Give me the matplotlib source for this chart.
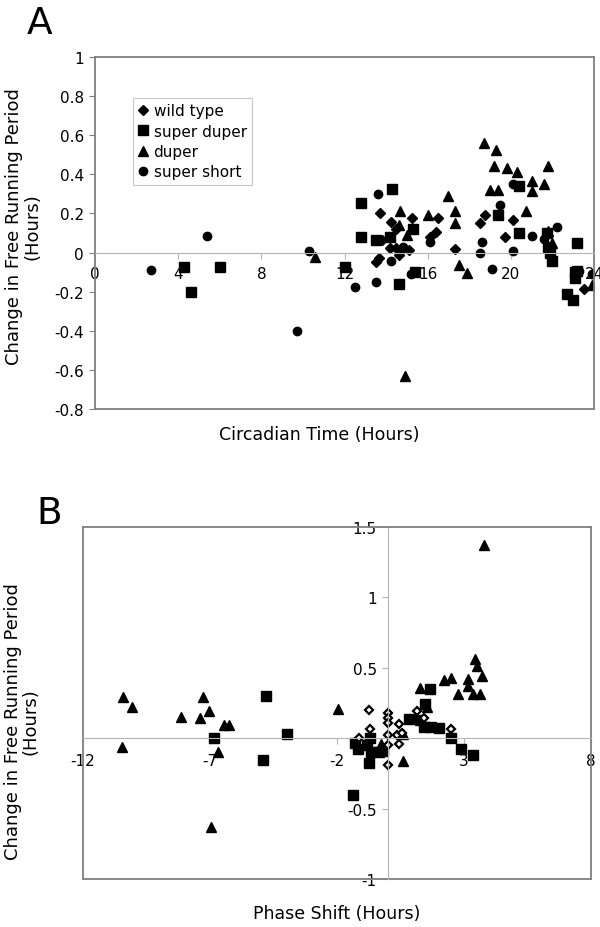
import matplotlib
matplotlib.use("Agg")
import matplotlib.pyplot as plt

# ---- panel A: circadian time vs change in free running period ----
wt_ct = [13.7, 14.25, 14.5, 15.25, 16.5, 16.4, 16.1, 13.8, 14.2, 14.5, 14.8, 15.1,
         13.65, 13.5, 14.6, 17.3, 18.5, 18.75, 19.7, 20.1, 23.5]
wt_dp = [0.20, 0.155, 0.12, 0.175, 0.175, 0.105, 0.08, 0.065, 0.024, 0.024, 0.024, 0.012,
         -0.027, -0.048, -0.014, 0.02, 0.15, 0.19, 0.079, 0.168, -0.185]

sd_ct = [4.3, 4.6, 6.0, 12.0, 12.8, 14.3, 12.8, 13.5, 14.2, 15.3, 15.4, 14.6, 19.4, 20.4,
         20.4, 21.75, 21.8, 21.9, 22.0, 23.2, 23.1, 23.1, 22.7, 23.0, 23.2]
sd_dp = [-0.072, -0.203, -0.072, -0.075, 0.255, 0.325, 0.08, 0.065, 0.08, 0.122, -0.1, -0.16,
         0.19, 0.1, 0.338, 0.1, 0.03, 0.0, -0.043, 0.048, -0.1, -0.13, -0.212, -0.243, -0.092]

du_ct = [10.6, 14.65, 14.6, 15.0, 16.0, 17.0, 17.3, 17.3, 17.5, 17.9, 14.9, 18.7, 19.3,
         19.2, 19.8, 20.3, 21.0, 21.8, 21.6, 19.0, 19.4, 21.0, 20.75, 21.8, 22.0, 23.9]
du_dp = [-0.024, 0.21, 0.14, 0.09, 0.19, 0.287, 0.215, 0.15, -0.063, -0.103, -0.63, 0.559,
         0.523, 0.441, 0.431, 0.41, 0.368, 0.441, 0.35, 0.318, 0.318, 0.316, 0.215, 0.108,
         0.048, -0.166]

ss_ct = [2.7, 5.4, 10.3, 9.7, 12.5, 13.5, 13.6, 14.24, 14.8, 16.1, 15.2, 18.6, 18.5, 19.1,
         19.5, 20.1, 20.1, 21.0, 21.6, 22.2, 23.3, 23.9]
ss_dp = [-0.09, 0.087, 0.01, -0.4, -0.174, -0.152, 0.3, -0.043, 0.03, 0.056, -0.11, 0.056,
         0.0, -0.084, 0.241, 0.35, 0.009, 0.087, 0.07, 0.13, -0.092, -0.11]

# ---- panel B: phase shift vs change in free running period ----
wt_ps = [-0.75, 0, 0, 0, -0.71, -1.14, 0, 0, 0, 0.43, 0.37, 0.43, 0.55, 1.13, 1.43, 2.47]
wt_dpB = [0.2, 0.18, 0.14, 0.107, 0.066, 0.0, 0.02, -0.05, -0.19, 0.1, 0.02, -0.04, 0.04,
          0.19, 0.144, 0.066]

sd_ps = [-4.78, -6.86, -3.96, -4.9, -1.38, -1.3, -1.17, -0.8, -0.71, -0.67, -0.75, -0.35,
         -0.2, 0.83, 1.26, 1.48, 1.65, 1.43, 1.72, 2.02, 2.5, 2.87, 3.36]
sd_dpB = [0.3, 0.0, 0.028, -0.152, -0.402, -0.033, -0.075, -0.05, 0.0, -0.095, -0.175,
          -0.095, -0.09, 0.137, 0.13, 0.244, 0.35, 0.078, 0.078, 0.071, 0.0, -0.075, -0.116]

du_ps = [-10.43, -10.07, -10.47, -8.15, -7.39, -7.28, -7.05, -6.43, -6.27, -6.68, -6.96,
         -1.97, 0.6, -0.25, 0.6, 1.26, 1.56, 2.22, 2.48, 2.77, 3.16, 3.14, 3.36, 3.62, 3.45,
         3.5, 3.69, 3.8]
du_dpB = [0.291, 0.22, -0.059, 0.149, 0.142, 0.291, 0.192, 0.095, 0.095, -0.099, -0.632,
          0.208, -0.159, -0.04, 0.03, 0.355, 0.22, 0.41, 0.43, 0.315, 0.374, 0.42, 0.315,
          0.315, 0.563, 0.516, 0.445, 1.373]

a_xticks = [0, 4, 8, 12, 16, 20, 24]
a_yticks = [-0.8, -0.6, -0.4, -0.2, 0, 0.2, 0.4, 0.6, 0.8, 1]
a_ylabels = ["-0.8", "-0.6", "-0.4", "-0.2", "0", "0.2", "0.4", "0.6", "0.8", "1"]
b_xticks = [-12, -7, -2, 3, 8]
b_xlabels = ["-12", "-7", "-2", "3", "8"]
b_yticks = [-1, -0.5, 0, 0.5, 1, 1.5]
b_ylabels = ["-1", "-0.5", "", "0.5", "1", "1.5"]

plt.rcParams["font.family"] = ["DejaVu Sans"]
frame = "#7f7f7f"
zline = "#b4b4b4"

fig = plt.figure(figsize=(6, 9.28), dpi=100)

# panel A
axA = fig.add_axes([95 / 600, 1 - 410 / 928, 499 / 600, 352 / 928])
axA.plot(wt_ct, wt_dp, "D", color="black", ms=5.5, ls="none", label="wild type")
axA.plot(sd_ct, sd_dp, "s", color="black", ms=6.5, ls="none", label="super duper")
axA.plot(du_ct, du_dp, "^", color="black", ms=7.5, ls="none", label="duper")
axA.plot(ss_ct, ss_dp, "o", color="black", ms=6, ls="none", label="super short")
axA.set_xlim(0, 24)
axA.set_ylim(-0.8, 1)
axA.set_xticks(a_xticks)
axA.set_xticklabels([str(t) for t in a_xticks])
axA.set_yticks(a_yticks)
axA.set_yticklabels(a_ylabels)
axA.spines["bottom"].set_position(("data", 0))
axA.spines["bottom"].set_color(zline)
for s in ["top", "right", "left"]:
    axA.spines[s].set_color(frame)
    axA.spines[s].set_linewidth(1.3)
axA.plot([0, 1], [0, 0], transform=axA.transAxes, color=frame, lw=1.3, clip_on=False)
axA.tick_params(axis="x", length=4, color=zline, labelsize=11, pad=6)
axA.tick_params(axis="y", length=4, color=frame, labelsize=11, pad=4)
axA.set_xlabel("Circadian Time (Hours)", fontsize=12.5)
axA.xaxis.set_label_coords(0.45, -0.045)
axA.set_ylabel("Change in Free Running Period\n(Hours)", fontsize=13, linespacing=1.0)
axA.yaxis.set_label_coords(-0.108, 0.52)
leg = axA.legend(loc="upper left", bbox_to_anchor=(0.076, 0.884), borderaxespad=0,
                 fontsize=11, handlelength=0.6, handletextpad=0.4, labelspacing=0.35,
                 borderpad=0.35, fancybox=False, framealpha=1)
leg.get_frame().set_edgecolor("#c8c8c8")
leg.get_frame().set_linewidth(0.8)

# panel B
axB = fig.add_axes([83 / 600, 1 - 880 / 928, 508 / 600, 352 / 928])
axB.plot(du_ps, du_dpB, "^", color="black", ms=7.5, ls="none")
axB.plot(sd_ps, sd_dpB, "s", color="black", ms=7.5, ls="none")
axB.plot(wt_ps, wt_dpB, "D", mfc="white", mec="black", mew=1.6, ms=4.5, ls="none")
axB.set_xlim(-12, 8)
axB.set_ylim(-1, 1.5)
axB.set_xticks(b_xticks)
axB.set_xticklabels(b_xlabels)
axB.set_yticks(b_yticks)
axB.set_yticklabels(b_ylabels)
axB.spines["bottom"].set_position(("data", 0))
axB.spines["left"].set_position(("data", 0))
axB.spines["bottom"].set_color(zline)
axB.spines["left"].set_color(zline)
for s in ["top", "right"]:
    axB.spines[s].set_color(frame)
    axB.spines[s].set_linewidth(1.3)
axB.plot([0, 1], [0, 0], transform=axB.transAxes, color=frame, lw=1.3, clip_on=False)
axB.plot([0, 0], [0, 1], transform=axB.transAxes, color=frame, lw=1.3, clip_on=False)
axB.tick_params(axis="both", length=4, color=zline, labelsize=11, pad=4)
axB.tick_params(axis="x", pad=7)
axB.set_xlabel("Phase Shift (Hours)", fontsize=12.5)
axB.xaxis.set_label_coords(0.5, -0.07)
axB.set_ylabel("Change in Free Running Period\n(Hours)", fontsize=13, linespacing=1.0)
axB.yaxis.set_label_coords(-0.085, 0.45)

fig.text(40 / 600, 1 - 24 / 928, "A", fontsize=27, ha="center", va="center")
fig.text(49 / 600, 1 - 514 / 928, "B", fontsize=27, ha="center", va="center")

fig.savefig("out.png", dpi=100)
